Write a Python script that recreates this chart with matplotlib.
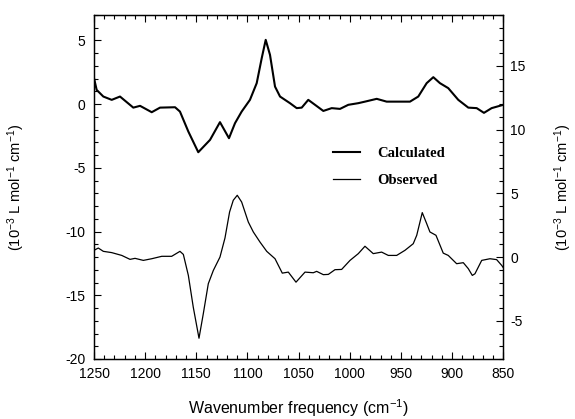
import matplotlib
matplotlib.use("Agg")
import matplotlib.pyplot as plt
from matplotlib.ticker import MultipleLocator

plt.rcParams['font.family'] = ['Liberation Sans', 'DejaVu Sans']
plt.rcParams['mathtext.fontset'] = 'custom'
plt.rcParams['mathtext.rm'] = 'Liberation Sans'
plt.rcParams['mathtext.it'] = 'Liberation Sans:italic'
plt.rcParams['axes.unicode_minus'] = False

# Calculated spectrum (left axis)
calc_wn = [1250, 1247.4, 1240.9, 1232.7, 1224.6, 1211.6, 1205.0, 1193.6, 1185.5,
           1170.8, 1166.0, 1157.8, 1148.1, 1136.6, 1126.9, 1118.1, 1112.2, 1105.7,
           1097.6, 1091.0, 1086.1, 1082.2, 1078.0, 1073.1, 1068.2, 1058.5, 1051.9,
           1047.0, 1040.6, 1034.0, 1025.9, 1017.7, 1009.6, 1001.5, 991.7, 985.2,
           973.7, 964.0, 941.2, 933.1, 924.9, 918.4, 911.9, 903.8, 894.0, 884.2,
           876.0, 868.9, 861.4, 850]
calc_val = [2.04, 1.12, 0.6, 0.34, 0.6, -0.27, -0.13, -0.63, -0.27,
            -0.24, -0.58, -2.15, -3.77, -2.8, -1.41, -2.67, -1.49, -0.58,
            0.34, 1.65, 3.61, 5.05, 3.87, 1.38, 0.6, 0.08, -0.31,
            -0.27, 0.34, -0.05, -0.53, -0.31, -0.37, -0.05, 0.08, 0.2,
            0.42, 0.2, 0.2, 0.6, 1.65, 2.12, 1.65, 1.26, 0.34, -0.27,
            -0.31, -0.68, -0.31, -0.05]

# Observed spectrum (right axis)
obs_wn = [1250, 1245.8, 1240.9, 1232.7, 1222.9, 1214.8, 1209.9, 1201.8, 1193.6,
          1183.8, 1174.1, 1166.0, 1162.7, 1157.8, 1153.0, 1147.4, 1143.2, 1138.3,
          1133.4, 1126.9, 1122.0, 1117.5, 1113.9, 1110.0, 1105.7, 1099.2, 1094.3,
          1087.8, 1081.2, 1073.1, 1066.0, 1060.1, 1052.6, 1043.8, 1035.7, 1032.4,
          1025.9, 1021.0, 1014.5, 1008.0, 999.8, 991.7, 985.2, 977.1, 968.9,
          962.4, 954.2, 946.1, 938.0, 934.6, 929.2, 924.9, 921.7, 915.8, 908.7,
          903.8, 895.6, 889.1, 884.2, 880.3, 877.7, 871.1, 863.0, 856.5, 851.6, 850]
obs_val = [0.53, 0.71, 0.45, 0.35, 0.13, -0.18, -0.1, -0.26, -0.13,
           0.06, 0.06, 0.45, 0.21, -1.44, -3.93, -6.37, -4.45, -2.09,
           -1.05, 0.0, 1.5, 3.54, 4.46, 4.85, 4.32, 2.75, 1.97,
           1.18, 0.45, -0.13, -1.26, -1.18, -1.97, -1.18, -1.23, -1.12,
           -1.38, -1.36, -0.99, -0.97, -0.26, 0.27, 0.85, 0.27, 0.39,
           0.13, 0.13, 0.53, 1.05, 1.71, 3.49, 2.63, 1.97, 1.71, 0.31,
           0.13, -0.52, -0.44, -0.91, -1.44, -1.31, -0.26, -0.13, -0.2, -0.65, -0.83]

x_ticks = [1250, 1200, 1150, 1100, 1050, 1000, 950, 900, 850]
left_ticks = [-20, -15, -10, -5, 0, 5]
right_ticks = [-5, 0, 5, 10, 15]
ylabel = "(10$^{-3}$ L mol$^{-1}$ cm$^{-1}$)"

fig = plt.figure(figsize=(5.75, 4.19), dpi=100)
ax = fig.add_axes([0.1635, 0.1432, 0.7118, 0.821])
ax2 = ax.twinx()

l1, = ax.plot(calc_wn, calc_val, color='black', lw=1.5)
l2, = ax2.plot(obs_wn, obs_val, color='black', lw=0.9)

ax.set_xlim(1250, 850)
ax.set_ylim(-20, 7)
ax2.set_ylim(-8, 19)

ax.set_xticks(x_ticks)
ax.xaxis.set_minor_locator(MultipleLocator(10))
ax.set_yticks(left_ticks)
ax.yaxis.set_minor_locator(MultipleLocator(1))
ax2.set_yticks(right_ticks)
ax2.yaxis.set_minor_locator(MultipleLocator(1))

ax.tick_params(axis='x', which='both', direction='in', top=True, bottom=True, labelsize=10, pad=6)
ax.tick_params(axis='y', which='both', direction='in', left=True, right=False, labelsize=10, pad=6)
ax2.tick_params(axis='y', which='both', direction='in', labelsize=10, pad=5)
for a in (ax, ax2):
    a.tick_params(which='major', length=5, width=0.8)
    a.tick_params(which='minor', length=3, width=0.8)
    for s in a.spines.values():
        s.set_linewidth(0.9)

ax.set_xlabel("Wavenumber frequency (cm$^{-1}$)", fontsize=11.5)
ax.xaxis.set_label_coords(0.5, -0.11)
ax.set_ylabel(ylabel, fontsize=10.5)
ax.yaxis.set_label_coords(-0.164, 0.5)
ax2.set_ylabel(ylabel, fontsize=10.5)
ax2.yaxis.set_label_coords(1.12, 0.5)

leg = ax.legend([l1, l2], ["Calculated", "Observed"], loc='upper left',
                bbox_to_anchor=(0.584, 0.618), frameon=False, borderpad=0,
                borderaxespad=0, handlelength=1.85, handletextpad=1.16,
                labelspacing=0.95,
                prop={'family': 'Liberation Serif', 'weight': 'bold', 'size': 10.5})

fig.savefig("out.png", dpi=100)
